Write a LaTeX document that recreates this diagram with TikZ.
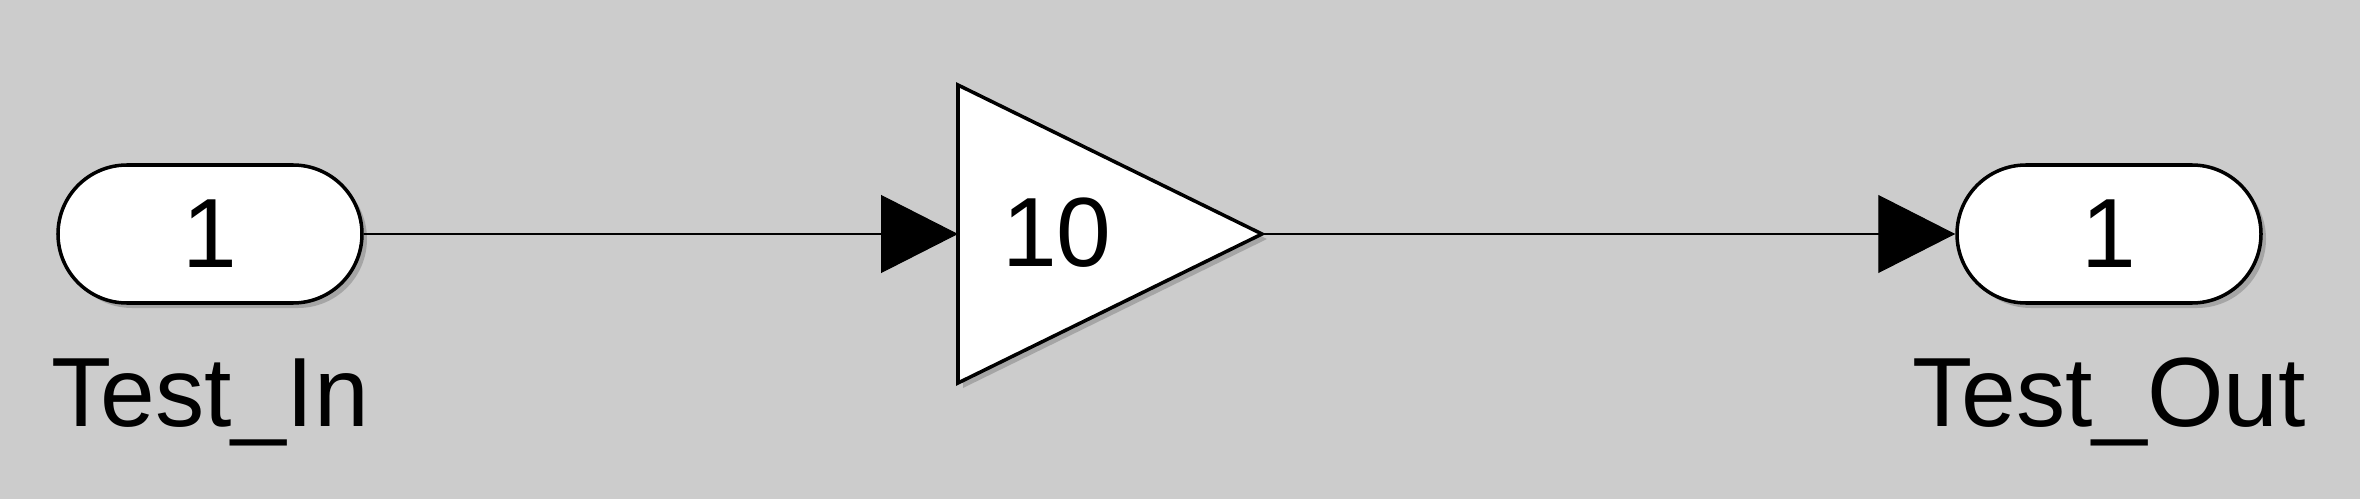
\documentclass[tikz,border=0pt]{standalone}
\usepackage{fontspec}
\setmainfont{Liberation Sans}
\usetikzlibrary{positioning,shapes.misc,arrows.meta,shadows}
\definecolor{fondo}{RGB}{204,204,204}

\begin{document}
\begin{tikzpicture}[
    texto/.style={font=\fontsize{28}{34}\selectfont, inner sep=0pt},
    sombra/.style={drop shadow={shadow xshift=0.05cm, shadow yshift=-0.05cm, opacity=0.5}},
    puerto/.style={rounded rectangle, draw, line width=1pt, fill=white, sombra,
        minimum width=3.04cm, minimum height=1.38cm, texto},
    senal/.style={line width=0.3pt, -{Triangle[length=7.7mm, width=7.8mm]}}
]
    % Fondo
    \fill[fondo] (0,0) rectangle (23.6,4.99);
    \useasboundingbox (0,0) rectangle (23.6,4.99);

    % Puertos de entrada y salida
    \node[puerto] (entrada) at (2.10,2.65) {1};
    \node[puerto] (salida)  at (21.09,2.65) {1};
    \node[texto, below=1.22cm of entrada.south, anchor=base] (lblEntrada) {Test\_In};
    \node[texto, below=1.22cm of salida.south, anchor=base] (lblSalida) {Test\_Out};

    % Ganancia
    \coordinate (gArriba) at (9.58,4.14);
    \coordinate (gAbajo)  at (9.58,1.16);
    \coordinate (gPunta)  at (12.62,2.65);
    \coordinate (gEntra)  at (9.58,2.65);
    \path[draw, line width=1pt, fill=white, sombra] (gArriba) -- (gPunta) -- (gAbajo) -- cycle;
    \node[texto] (ganancia) at (10.57,2.66) {10};

    % Senales
    \draw[senal] (entrada.east) -- (gEntra);
    \draw[senal] (gPunta) -- (salida.west);
\end{tikzpicture}
\end{document}
